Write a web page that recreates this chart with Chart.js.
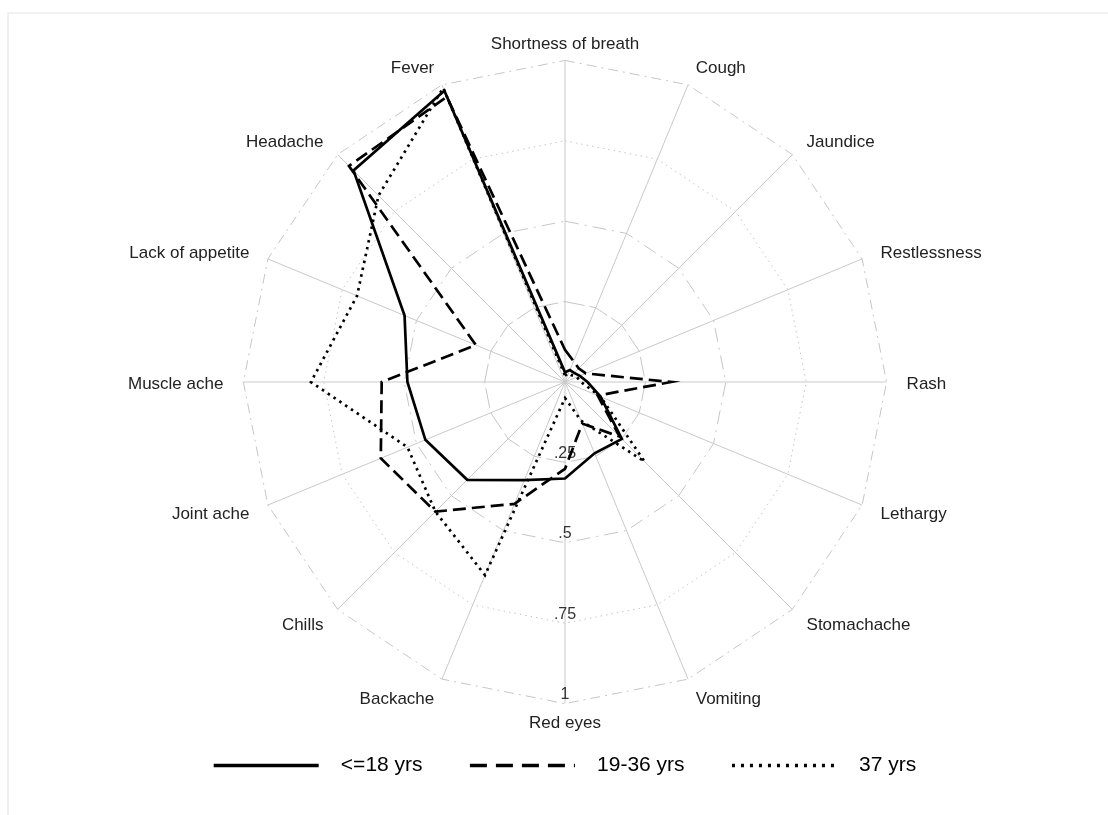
<!DOCTYPE html>
<html>
<head>
<meta charset="utf-8">
<script src="https://cdn.jsdelivr.net/npm/chart.js@4.4.1/dist/chart.umd.min.js"></script>
<style>
  html, body { margin: 0; padding: 0; background: #fff; }
  #frame { position: absolute; left: 7px; top: 12px; right: 0; bottom: 0; border-left: 2px solid #f1f1f1; border-top: 2px solid #f1f1f1; }
  #wrap { position: absolute; left: 0; top: 0; width: 1108px; height: 815px; }
</style>
</head>
<body>
<div id="frame"></div>
<div id="wrap"><canvas id="symptom_radar" width="1108" height="815"></canvas></div>
<script>
const symptoms = ['Shortness of breath', 'Cough', 'Jaundice', 'Restlessness', 'Rash', 'Lethargy',
    'Stomachache', 'Vomiting', 'Red eyes', 'Backache', 'Chills', 'Joint ache', 'Muscle ache',
    'Lack of appetite', 'Headache', 'Fever'];

const ageUnder18 = [0.03, 0.04, 0.04, 0.05, 0.07, 0.12, 0.25, 0.24, 0.30, 0.33, 0.43, 0.47, 0.49, 0.54, 0.93, 0.98];
const age19to36 = [0.10, 0.07, 0.06, 0.07, 0.33, 0.11, 0.24, 0.14, 0.27, 0.41, 0.57, 0.62, 0.57, 0.30, 0.95, 0.96];
const age37 = [0.02, 0.03, 0.03, 0.04, 0.05, 0.12, 0.35, 0.13, 0.05, 0.65, 0.57, 0.53, 0.79, 0.70, 0.82, 0.99];

const seriesNames = ['<=18 yrs', '19-36 yrs', '37 yrs'];
const tickValues = [0.25, 0.5, 0.75, 1];
const tickLabels = ['.25', '.5', '.75', '1'];

// line patterns for the three groups
const seriesDash = [[], [13, 6], [2.5, 4.5]];
const legendDash = [[], [17, 9], [3, 6]];
// ring patterns, index 0 is the centre (not drawn)
const ringDash = [[], [20, 5], [14, 6, 2, 6], [1.5, 4], [10, 5, 2, 5]];

const labelPad = (i) => (i % 8 === 0 ? 6 : 20);

const ctx1 = document.getElementById('symptom_radar');

// draws the .25 / .5 / .75 / 1 labels along the bottom spoke
const bottomTicks = {
    id: 'bottomTicks',
    beforeDatasetsDraw(chart) {
        const scale = chart.scales.r;
        const c = chart.ctx;
        c.save();
        c.font = '16px "Liberation Sans", Arial, sans-serif';
        c.fillStyle = '#333';
        c.textAlign = 'center';
        c.textBaseline = 'middle';
        tickValues.forEach((v, i) => {
            const d = scale.getDistanceFromCenterForValue(v);
            c.fillText(tickLabels[i], scale.xCenter, scale.yCenter + d - 9);
        });
        c.restore();
    }
};

new Chart(ctx1, {
    type: 'radar',
    data: {
        labels: symptoms,
        datasets: [ageUnder18, age19to36, age37].map((vals, i) => ({
            label: seriesNames[i],
            data: vals,
            fill: false,
            borderColor: '#000',
            borderWidth: 2.7,
            borderDash: seriesDash[i],
            pointRadius: 0,
            pointHoverRadius: 0,
            tension: 0
        }))
    },
    options: {
        responsive: false,
        animation: false,
        layout: {
            padding: { left: 22, right: 0, top: 34, bottom: 29 }
        },
        plugins: {
            tooltip: { enabled: false },
            legend: {
                position: 'bottom',
                labels: {
                    usePointStyle: true,
                    pointStyleWidth: 105,
                    padding: 24,
                    color: '#111',
                    font: { family: '"Liberation Sans Narrow", "Arial Narrow", "Liberation Sans", sans-serif', size: 21 },
                    generateLabels(chart) {
                        return chart.data.datasets.map((ds, i) => ({
                            text: '  ' + ds.label + (i < 2 ? '    ' : ''),
                            fillStyle: '#000',
                            strokeStyle: '#000',
                            lineWidth: 3.5,
                            lineDash: legendDash[i],
                            pointStyle: 'line',
                            datasetIndex: i,
                            hidden: false
                        }));
                    }
                }
            }
        },
        scales: {
            r: {
                min: 0,
                max: 1,
                ticks: { stepSize: 0.25, display: false },
                grid: { color: '#c6c6c6', lineWidth: 1 },
                border: { dash: (c) => ringDash[c.index] || [] },
                angleLines: { color: '#c9c9c9', lineWidth: 1 },
                pointLabels: {
                    color: '#222',
                    font: { family: '"Liberation Sans", Arial, sans-serif', size: 17 },
                    padding: (c) => labelPad(c.index)
                },
                // centre each label vertically on its anchor point, as in the original
                afterFit(scale) {
                    (scale._pointLabelItems || []).forEach((item, i) => {
                        if (i === 0) return;
                        const h = item.bottom - item.top;
                        if (i === 8) {
                            item.y += 4;
                        } else {
                            const pos = scale.getPointPosition(i, scale.drawingArea + labelPad(i));
                            item.y = pos.y - h / 2 + 2;
                        }
                        item.top = item.y;
                        item.bottom = item.y + h;
                    });
                }
            }
        }
    },
    plugins: [bottomTicks]
});
</script>
</body>
</html>
